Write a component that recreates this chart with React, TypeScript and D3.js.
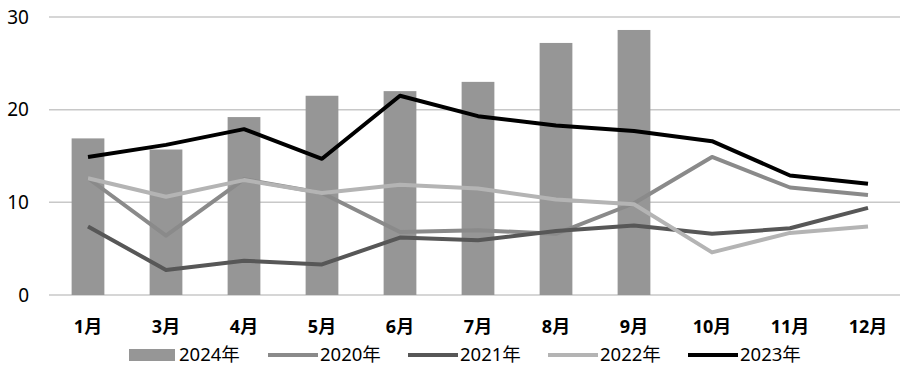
import { useEffect, useRef } from "react";
import * as d3 from "d3";

const months = ["1月", "3月", "4月", "5月", "6月", "7月", "8月", "9月", "10月", "11月", "12月"];
const yTicks = [0, 10, 20, 30];

const bars2024 = [16.9, 15.7, 19.2, 21.5, 22.0, 23.0, 27.2, 28.6, null, null, null];
const s2020 = [12.6, 6.4, 12.5, 11.0, 6.8, 7.0, 6.6, 9.9, 14.9, 11.6, 10.8];
const s2021 = [7.4, 2.7, 3.7, 3.3, 6.2, 5.9, 6.9, 7.5, 6.6, 7.2, 9.4];
const s2022 = [12.6, 10.6, 12.4, 11.0, 11.9, 11.5, 10.3, 9.8, 4.6, 6.7, 7.4];
const s2023 = [14.9, 16.2, 17.9, 14.7, 21.5, 19.3, 18.3, 17.7, 16.6, 12.9, 12.0];

const lineSeries = [
  { name: "2020年", values: s2020, color: "#8a8a8a" },
  { name: "2021年", values: s2021, color: "#575757" },
  { name: "2022年", values: s2022, color: "#b4b4b4" },
  { name: "2023年", values: s2023, color: "#000000" },
];

const W = 900;
const H = 367;
const FONT = "'Noto Sans', 'Noto Sans CJK SC', sans-serif";

const App = () => {
  const ref = useRef<SVGSVGElement>(null);

  useEffect(() => {
    const svg = d3.select(ref.current);
    svg.selectAll("*").remove();

    const x = d3.scaleBand<string>().domain(months).range([49, 907]).paddingInner(0.58).paddingOuter(0.29);
    const y = d3.scaleLinear().domain([0, 30]).range([295, 17]);

    // grid
    svg
      .append("g")
      .selectAll("line")
      .data(yTicks)
      .enter()
      .append("line")
      .attr("x1", 49)
      .attr("x2", 900)
      .attr("y1", (d) => y(d))
      .attr("y2", (d) => y(d))
      .attr("stroke", "#c8c8c8")
      .attr("stroke-width", 1.5);

    svg
      .append("g")
      .selectAll("text")
      .data(yTicks)
      .enter()
      .append("text")
      .attr("x", 29)
      .attr("y", (d) => y(d) + 6.5)
      .attr("text-anchor", "end")
      .attr("font-family", FONT)
      .attr("font-size", 19)
      .attr("fill", "#000")
      .text((d) => d);

    // bars
    svg
      .append("g")
      .selectAll("rect")
      .data(bars2024.map((v, i) => ({ m: months[i], v })).filter((d) => d.v != null))
      .enter()
      .append("rect")
      .attr("x", (d) => x(d.m)!)
      .attr("width", x.bandwidth())
      .attr("y", (d) => y(d.v as number))
      .attr("height", (d) => y(0) - y(d.v as number))
      .attr("fill", "#969696");

    // lines
    const cx = (i: number) => x(months[i])! + x.bandwidth() / 2;
    const line = d3
      .line<number>()
      .x((_, i) => cx(i))
      .y((d) => y(d));

    lineSeries.forEach((s) => {
      svg
        .append("path")
        .datum(s.values)
        .attr("fill", "none")
        .attr("stroke", s.color)
        .attr("stroke-width", 4)
        .attr("stroke-linejoin", "round")
        .attr("d", line);
    });

    // x labels
    svg
      .append("g")
      .selectAll("text")
      .data(months)
      .enter()
      .append("text")
      .attr("x", (d) => x(d)! + x.bandwidth() / 2)
      .attr("y", 333)
      .attr("text-anchor", "middle")
      .attr("font-family", FONT)
      .attr("font-size", 18)
      .attr("font-weight", "bold")
      .attr("fill", "#000")
      .text((d) => d);

    // legend
    const lg = svg.append("g");
    lg.append("rect").attr("x", 129).attr("y", 349).attr("width", 46).attr("height", 12).attr("fill", "#969696");
    lg.append("text")
      .attr("x", 179)
      .attr("y", 361)
      .attr("font-family", FONT)
      .attr("font-size", 18.5)
      .text("2024年");
    const legX = [268, 408, 548, 688];
    lineSeries.forEach((s, i) => {
      lg.append("line")
        .attr("x1", legX[i])
        .attr("x2", legX[i] + 50)
        .attr("y1", 355)
        .attr("y2", 355)
        .attr("stroke", s.color)
        .attr("stroke-width", 4);
      lg.append("text")
        .attr("x", legX[i] + 52)
        .attr("y", 361)
        .attr("font-family", FONT)
        .attr("font-size", 18.5)
        .text(s.name);
    });
  }, []);

  return (
    <svg
      ref={ref}
      width={W}
      height={H}
      style={{ position: "absolute", left: 0, top: 0, background: "#fff" }}
    />
  );
};

export default App;
